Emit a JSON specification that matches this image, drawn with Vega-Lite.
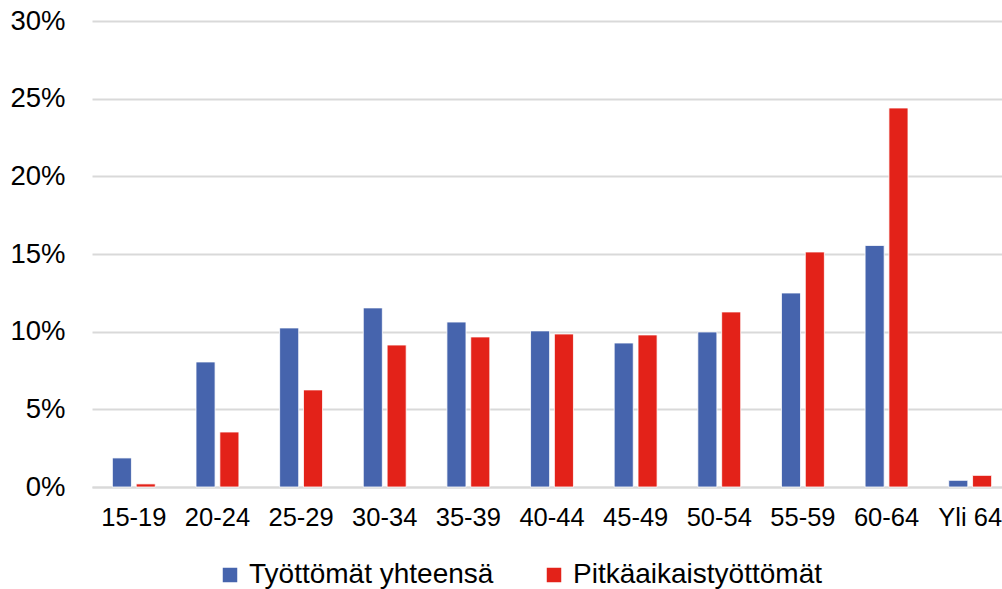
{
  "$schema": "https://vega.github.io/schema/vega-lite/v6.json",
  "width": 910,
  "height": 466,
  "autosize": "none",
  "padding": {"left": 92, "top": 21, "right": 0, "bottom": 102},
  "background": "white",
  "config": {
    "font": "Liberation Sans",
    "view": {"stroke": null}
  },
  "data": {
    "values": [
      {"ika": "15-19", "sarja": "Työttömät yhteensä", "arvo": 0.0187},
      {"ika": "15-19", "sarja": "Pitkäaikaistyöttömät", "arvo": 0.0020},
      {"ika": "20-24", "sarja": "Työttömät yhteensä", "arvo": 0.0805},
      {"ika": "20-24", "sarja": "Pitkäaikaistyöttömät", "arvo": 0.0354},
      {"ika": "25-29", "sarja": "Työttömät yhteensä", "arvo": 0.1024},
      {"ika": "25-29", "sarja": "Pitkäaikaistyöttömät", "arvo": 0.0625},
      {"ika": "30-34", "sarja": "Työttömät yhteensä", "arvo": 0.1153},
      {"ika": "30-34", "sarja": "Pitkäaikaistyöttömät", "arvo": 0.0914},
      {"ika": "35-39", "sarja": "Työttömät yhteensä", "arvo": 0.1062},
      {"ika": "35-39", "sarja": "Pitkäaikaistyöttömät", "arvo": 0.0966},
      {"ika": "40-44", "sarja": "Työttömät yhteensä", "arvo": 0.1005},
      {"ika": "40-44", "sarja": "Pitkäaikaistyöttömät", "arvo": 0.0985},
      {"ika": "45-49", "sarja": "Työttömät yhteensä", "arvo": 0.0927},
      {"ika": "45-49", "sarja": "Pitkäaikaistyöttömät", "arvo": 0.0979},
      {"ika": "50-54", "sarja": "Työttömät yhteensä", "arvo": 0.0998},
      {"ika": "50-54", "sarja": "Pitkäaikaistyöttömät", "arvo": 0.1127},
      {"ika": "55-59", "sarja": "Työttömät yhteensä", "arvo": 0.1249},
      {"ika": "55-59", "sarja": "Pitkäaikaistyöttömät", "arvo": 0.1513},
      {"ika": "60-64", "sarja": "Työttömät yhteensä", "arvo": 0.1555},
      {"ika": "60-64", "sarja": "Pitkäaikaistyöttömät", "arvo": 0.2440},
      {"ika": "Yli 64", "sarja": "Työttömät yhteensä", "arvo": 0.0043},
      {"ika": "Yli 64", "sarja": "Pitkäaikaistyöttömät", "arvo": 0.0075}
    ]
  },
  "mark": {"type": "bar", "stroke": "white", "strokeWidth": 0.8},
  "encoding": {
    "x": {
      "field": "ika",
      "type": "nominal",
      "sort": null,
      "scale": {"range": [0, 920], "paddingInner": 0.487, "paddingOuter": 0.2435},
      "axis": {
        "title": null,
        "labelAngle": 0,
        "labelFontSize": 25.5,
        "labelColor": "#000000",
        "labelPadding": 18,
        "ticks": false,
        "domainColor": "#d9d9d9",
        "domainWidth": 2
      }
    },
    "xOffset": {
      "field": "sarja",
      "type": "nominal",
      "sort": ["Työttömät yhteensä", "Pitkäaikaistyöttömät"],
      "scale": {"paddingInner": 0.2}
    },
    "y": {
      "field": "arvo",
      "type": "quantitative",
      "scale": {"domain": [0, 0.3], "nice": false},
      "axis": {
        "title": null,
        "format": ".0%",
        "values": [0, 0.05, 0.1, 0.15, 0.2, 0.25, 0.3],
        "labelFontSize": 27.5,
        "labelColor": "#000000",
        "labelPadding": 27,
        "ticks": false,
        "domain": false,
        "gridColor": "#d9d9d9",
        "gridWidth": 2
      }
    },
    "color": {
      "field": "sarja",
      "type": "nominal",
      "sort": ["Työttömät yhteensä", "Pitkäaikaistyöttömät"],
      "scale": {"domain": ["Työttömät yhteensä", "Pitkäaikaistyöttömät"], "range": ["#4664AD", "#E32219"]},
      "legend": {
        "title": null,
        "orient": "none",
        "direction": "horizontal",
        "legendX": 124,
        "legendY": 540,
        "padding": 0,
        "symbolType": "square",
        "symbolSize": 210,
        "symbolStrokeWidth": 0,
        "symbolOpacity": 1,
        "labelFontSize": 28,
        "labelColor": "#000000",
        "labelOffset": 5,
        "columnPadding": 46,
        "labelLimit": 400
      }
    }
  }
}
